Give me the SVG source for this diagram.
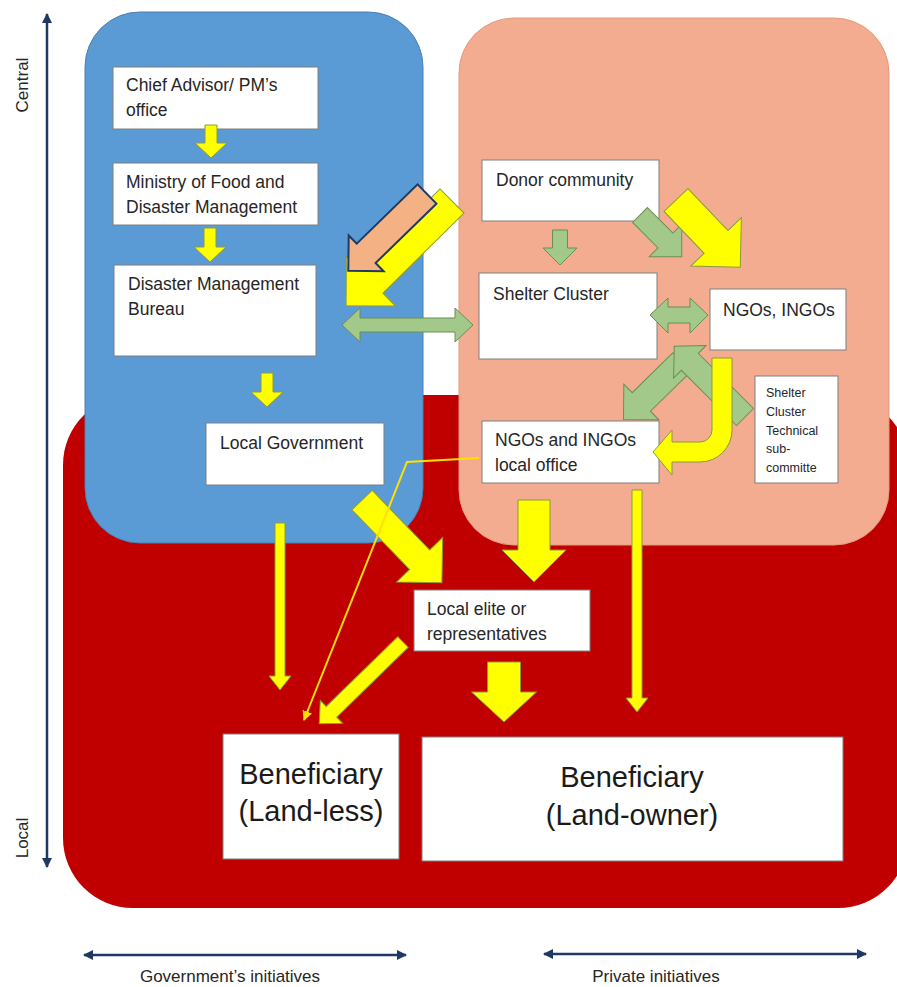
<svg xmlns="http://www.w3.org/2000/svg" width="897" height="987" viewBox="0 0 897 987">
<style>
.box{fill:#fff;stroke:#7f7f7f;stroke-width:1}
.t{font-family:"Liberation Sans",Arial,sans-serif;font-size:17.5px;fill:#262626}
.tb{font-family:"Liberation Sans",Arial,sans-serif;font-size:29px;fill:#1a1a1a;text-anchor:middle}
.ts{font-family:"Liberation Sans",Arial,sans-serif;font-size:12.5px;fill:#262626}
.ax{font-family:"Liberation Sans",Arial,sans-serif;font-size:17px;fill:#262626;text-anchor:middle}
.y{fill:#ffff00;stroke:#8a9a3c;stroke-width:1}
.g{fill:#a3c98a;stroke:#6b8e55;stroke-width:1}
.o{fill:#f4b183;stroke:#1f3864;stroke-width:2}
.axl{stroke:#1f3864;stroke-width:2.5;fill:none}
</style>
<defs>
<marker id="ah" viewBox="0 0 10 10" refX="9" refY="5" markerWidth="4" markerHeight="4" orient="auto-start-reverse">
<path d="M0,0 L10,5 L0,10 Z" fill="#1f3864"/>
</marker>
<marker id="yh" viewBox="0 0 10 10" refX="9" refY="5" markerWidth="5" markerHeight="5" orient="auto">
<path d="M0,0 L10,5 L0,10 Z" fill="#ffe000"/>
</marker>
</defs>
<rect width="897" height="987" fill="#fff"/>

<g id="regions">
<rect x="63" y="395" width="845" height="513" rx="70" fill="#c00000"/>
<rect x="85" y="12" width="338" height="531" rx="55" fill="#5b9bd5" stroke="#4a7fb0" stroke-width="1"/>
<rect x="459" y="18" width="430" height="527" rx="55" fill="#f3ac8f" stroke="#e59a7c" stroke-width="1"/>
</g>

<g id="axes">
<line class="axl" x1="47" y1="867" x2="47" y2="14" marker-start="url(#ah)" marker-end="url(#ah)"/>
<line class="axl" x1="84" y1="955" x2="406" y2="955" marker-start="url(#ah)" marker-end="url(#ah)"/>
<line class="axl" x1="544" y1="954" x2="866" y2="954" marker-start="url(#ah)" marker-end="url(#ah)"/>
<text class="ax" transform="translate(28,85) rotate(-90)">Central</text>
<text class="ax" transform="translate(28,838) rotate(-90)">Local</text>
<text class="ax" x="230" y="982">Government’s initiatives</text>
<text class="ax" x="656" y="982">Private initiatives</text>
</g>

<g id="n-chief"><rect class="box" x="113" y="67" width="205" height="62"/><text class="t" x="126" y="91">Chief Advisor/ PM’s</text><text class="t" x="126" y="116">office</text></g>
<g id="n-ministry"><rect class="box" x="113" y="163" width="205" height="62"/><text class="t" x="126" y="188">Ministry of Food and</text><text class="t" x="126" y="213">Disaster Management</text></g>
<g id="n-dmb"><rect class="box" x="114" y="265" width="202" height="91"/><text class="t" x="128" y="290">Disaster Management</text><text class="t" x="128" y="315">Bureau</text></g>
<g id="n-localgov"><rect class="box" x="206" y="423" width="178" height="62"/><text class="t" x="220" y="449">Local Government</text></g>
<g id="n-donor"><rect class="box" x="482" y="160" width="177" height="61"/><text class="t" x="496" y="186">Donor community</text></g>
<g id="n-shelter"><rect class="box" x="479" y="273" width="178" height="86"/><text class="t" x="493" y="300">Shelter Cluster</text></g>
<g id="n-ngos"><rect class="box" x="710" y="289" width="136" height="61"/><text class="t" x="723" y="316">NGOs, INGOs</text></g>
<g id="n-tech"><rect class="box" x="755" y="376" width="83" height="107"/><text class="ts" x="766" y="397">Shelter</text><text class="ts" x="766" y="416">Cluster</text><text class="ts" x="766" y="435">Technical</text><text class="ts" x="766" y="453">sub-</text><text class="ts" x="766" y="472">committe</text></g>
<g id="n-localoffice"><rect class="box" x="482" y="421" width="177" height="62"/><text class="t" x="495" y="446">NGOs and INGOs</text><text class="t" x="495" y="471">local office</text></g>
<g id="n-elite"><rect class="box" x="414" y="590" width="176" height="61"/><text class="t" x="427" y="615">Local elite or</text><text class="t" x="427" y="640">representatives</text></g>
<g id="n-landless"><rect class="box" x="223" y="734" width="176" height="125"/><text class="tb" x="311" y="784">Beneficiary</text><text class="tb" x="311" y="821">(Land-less)</text></g>
<g id="n-landowner"><rect class="box" x="422" y="737" width="421" height="124"/><text class="tb" x="632" y="787">Beneficiary</text><text class="tb" x="632" y="825">(Land-owner)</text></g>

<g id="connectors">
<polygon class="y" transform="translate(211,125) rotate(90)" points="0,-6 18,-6 18,-16 33,0 18,16 18,6 0,6"/>
<polygon class="y" transform="translate(210,228) rotate(90)" points="0,-6 19,-6 19,-16 34,0 19,16 19,6 0,6"/>
<polygon class="y" transform="translate(267,373) rotate(90)" points="0,-6 19,-6 19,-16 34,0 19,16 19,6 0,6"/>
<polygon class="g" transform="translate(560,230) rotate(90)" points="0,-7.5 18,-7.5 18,-17 35,0 18,17 18,7.5 0,7.5"/>
<polygon class="y" transform="translate(452,201) rotate(135.3)" points="0,-17 114,-17 114,-35 149,0 114,35 114,17 0,17"/>
<polygon class="o" transform="translate(427,194) rotate(135.7)" points="0,-13.5 85,-13.5 85,-25 110,0 85,25 85,13.5 0,13.5"/>
<polygon class="g" transform="translate(640,215) rotate(45)" points="0,-10.5 36,-10.5 36,-23 59,0 36,23 36,10.5 0,10.5"/>
<polygon class="y" transform="translate(676,200) rotate(46.3)" points="0,-16.5 58,-16.5 58,-35 93,0 58,35 58,16.5 0,16.5"/>
<polygon class="g" points="342,325 360,308 360,318 455,318 455,308 473,325 455,342 455,332 360,332 360,342"/>
<polygon class="g" points="650,315 668,298 668,307 690,307 690,298 708,315 690,333 690,323 668,323 668,333"/>
<polygon class="g" transform="translate(682,362) rotate(135.5)" points="0,-13 57,-13 57,-25 82,0 57,25 57,13 0,13"/>
<polygon class="g" transform="translate(745,417) rotate(225)" points="0,-12 78,-12 78,-23 100,0 78,23 78,12 0,12"/>
<path class="y" d="M732,358 L732,430 A32,32 0 0 1 700,462 L672,462 L672,475 L653,452 L672,430 L672,442 L700,442 A12,12 0 0 0 712,430 L712,358 Z"/>
<polygon class="y" transform="translate(362,500) rotate(46)" points="0,-14 83,-14 83,-32 115,0 83,32 83,14 0,14"/>
<polygon class="y" transform="translate(534,500) rotate(90)" points="0,-16 50,-16 50,-32 82,0 50,32 50,16 0,16"/>
<polygon class="y" transform="translate(504,662) rotate(90)" points="0,-16.5 30,-16.5 30,-32.5 60,0 30,32.5 30,16.5 0,16.5"/>
<polygon class="y" transform="translate(403,642) rotate(135.7)" points="0,-7.5 100,-7.5 100,-16 117,0 100,16 100,7.5 0,7.5"/>
<polygon class="y" transform="translate(280,523) rotate(90)" points="0,-5 153,-5 153,-11 167,0 153,11 153,5 0,5"/>
<polygon class="y" transform="translate(637,490) rotate(90)" points="0,-5 208,-5 208,-11 222,0 208,11 208,5 0,5"/>
<path d="M479,458 L407,462 L304,720" fill="none" stroke="#ffe000" stroke-width="2" marker-end="url(#yh)"/>
</g>
</svg>
